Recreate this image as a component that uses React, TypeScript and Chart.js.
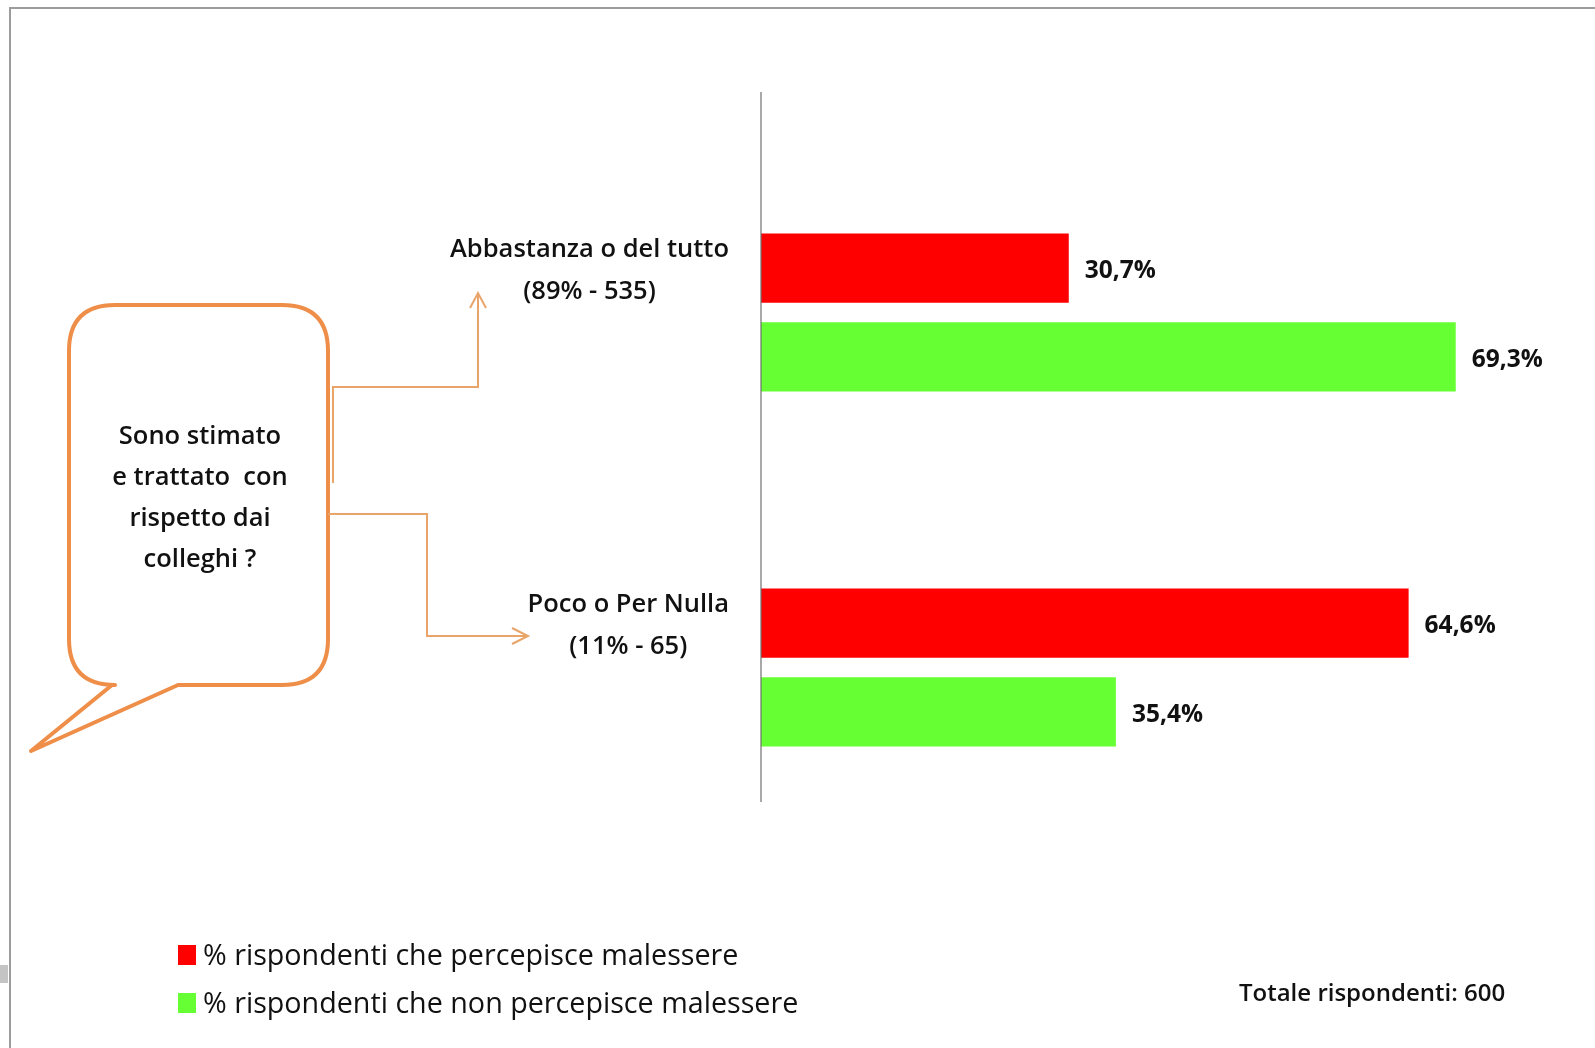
import { useEffect, useRef } from "react";
import { Chart, registerables } from "chart.js";

Chart.register(...registerables);

// Survey data: answers to the question in the speech bubble
const categories: string[][] = [
  ["Abbastanza o del tutto", "(89% - 535)"],
  ["Poco o Per Nulla", "(11% - 65)"],
];
const seriesNames = [
  "% rispondenti che percepisce malessere",
  "% rispondenti che non percepisce malessere",
];
const malessere = [30.7, 64.6];
const nonMalessere = [69.3, 35.4];
const seriesColors = ["#FF0000", "#66FF33"];
const question = ["Sono stimato", "e trattato  con", "rispetto dai", "colleghi ?"];
const totalNote = "Totale rispondenti: 600";

const FONT = "'Open Sans', 'DejaVu Sans', sans-serif";
const ORANGE = "#EE8E48";
const ARROW = "#E9A469";

const fmt = (v: number) => v.toFixed(1).replace(".", ",") + "%";

function text(
  ctx: CanvasRenderingContext2D,
  s: string,
  x: number,
  y: number,
  font: string,
  align: CanvasTextAlign,
  sx = 1,
  color = "#111"
) {
  ctx.save();
  ctx.font = font;
  ctx.fillStyle = color;
  ctx.textBaseline = "middle";
  ctx.textAlign = align;
  ctx.translate(x, y);
  ctx.scale(sx, 1);
  ctx.fillText(s, 0, 0);
  ctx.restore();
}

const decorations = {
  id: "decorations",
  beforeDraw(chart: Chart) {
    const { ctx, width, height } = chart;
    ctx.save();
    ctx.fillStyle = "#fff";
    ctx.fillRect(0, 0, width, height);
    // outer frame (top and left edges)
    ctx.strokeStyle = "#9c9c9c";
    ctx.lineWidth = 2;
    ctx.beginPath();
    ctx.moveTo(10, height);
    ctx.lineTo(10, 8);
    ctx.lineTo(width, 8);
    ctx.stroke();
    ctx.fillStyle = "#c4c4c4";
    ctx.fillRect(0, 965, 8, 18);
    ctx.restore();
  },
  afterDatasetsDraw(chart: Chart) {
    const { ctx, chartArea } = chart;
    const axisX = chartArea.left;

    // vertical axis line
    ctx.save();
    ctx.strokeStyle = "#6f6f6f";
    ctx.lineWidth = 1.2;
    ctx.beginPath();
    ctx.moveTo(axisX, chartArea.top - 43);
    ctx.lineTo(axisX, chartArea.bottom - 43);
    ctx.stroke();
    ctx.restore();

    // value labels at bar ends
    chart.data.datasets.forEach((ds, di) => {
      const meta = chart.getDatasetMeta(di);
      meta.data.forEach((el: any, i: number) => {
        text(ctx, fmt(ds.data[i] as number), el.x + 16, el.y + 3, `bold 24.5px ${FONT}`, "left");
      });
    });

    // category labels, each block centred on its own widest line
    const m0 = chart.getDatasetMeta(0);
    const m1 = chart.getDatasetMeta(1);
    (chart.data.labels as string[][]).forEach((lines, i) => {
      const cy = ((m0.data[i] as any).y + (m1.data[i] as any).y) / 2 - 42;
      const font = `600 25.5px ${FONT}`;
      ctx.save();
      ctx.font = font;
      const widest = Math.max(...lines.map((l) => ctx.measureText(l).width));
      ctx.restore();
      const cx = axisX - 32 - widest / 2;
      lines.forEach((l, k) => {
        text(ctx, l, cx, cy + (k - (lines.length - 1) / 2) * 42, font, "center");
      });
    });

    // speech bubble with the question
    ctx.save();
    const L = 69, R = 328, T = 305, B = 685, r = 46;
    ctx.beginPath();
    ctx.moveTo(L + r, T);
    ctx.lineTo(R - r, T);
    ctx.quadraticCurveTo(R, T, R, T + r);
    ctx.lineTo(R, B - r);
    ctx.quadraticCurveTo(R, B, R - r, B);
    ctx.lineTo(178, B);
    ctx.lineTo(31, 751);
    ctx.lineTo(112, B);
    ctx.lineTo(L + r, B);
    ctx.quadraticCurveTo(L, B, L, B - r);
    ctx.lineTo(L, T + r);
    ctx.quadraticCurveTo(L, T, L + r, T);
    ctx.closePath();
    ctx.fillStyle = "#fff";
    ctx.fill();
    ctx.strokeStyle = ORANGE;
    ctx.lineWidth = 4;
    ctx.lineJoin = "round";
    ctx.stroke();
    ctx.restore();
    question.forEach((l, k) => {
      text(ctx, l, 200, 437 + k * 41, `600 25.5px ${FONT}`, "center");
    });

    // connector arrows from the bubble to the two answer groups
    ctx.save();
    ctx.strokeStyle = ARROW;
    ctx.lineWidth = 2;
    ctx.beginPath();
    ctx.moveTo(333, 483);
    ctx.lineTo(333, 387);
    ctx.lineTo(478, 387);
    ctx.lineTo(478, 293);
    ctx.moveTo(470, 308);
    ctx.lineTo(478, 293);
    ctx.lineTo(486, 308);
    ctx.moveTo(328, 514);
    ctx.lineTo(427, 514);
    ctx.lineTo(427, 636);
    ctx.lineTo(528, 636);
    ctx.moveTo(512, 628);
    ctx.lineTo(528, 636);
    ctx.lineTo(512, 644);
    ctx.stroke();
    ctx.restore();

    // legend
    chart.data.datasets.forEach((ds, di) => {
      const cy = 957 + di * 48;
      ctx.fillStyle = ds.backgroundColor as string;
      ctx.fillRect(178, cy - 12, 18, 20);
      text(ctx, ds.label as string, 203, cy, `28.7px ${FONT}`, "left");
    });

    text(ctx, totalNote, 1239, 994, `600 24px ${FONT}`, "left");
  },
};

export default function App() {
  const ref = useRef<HTMLCanvasElement>(null);
  useEffect(() => {
    const chart = new Chart(ref.current!, {
      type: "bar",
      data: {
        labels: categories,
        datasets: [
          { label: seriesNames[0], data: malessere, backgroundColor: seriesColors[0] },
          { label: seriesNames[1], data: nonMalessere, backgroundColor: seriesColors[1] },
        ],
      },
      options: {
        indexAxis: "y",
        responsive: false,
        maintainAspectRatio: false,
        animation: false,
        categoryPercentage: 0.5,
        barPercentage: 0.78,
        layout: { padding: { left: 0, right: 32, top: 135, bottom: 203 } },
        plugins: { legend: { display: false }, tooltip: { enabled: false } },
        scales: {
          x: { display: false, min: 0, max: 80 },
          y: {
            display: true,
            ticks: { display: false },
            grid: { display: false },
            border: { display: false },
            afterFit: (s: any) => {
              s.width = 761;
            },
          },
        },
      },
      plugins: [decorations],
    });
    return () => chart.destroy();
  }, []);
  return (
    <div style={{ position: "fixed", left: 0, top: 0, width: 1595, height: 1048 }}>
      <canvas ref={ref} width={1595} height={1048} />
    </div>
  );
}
